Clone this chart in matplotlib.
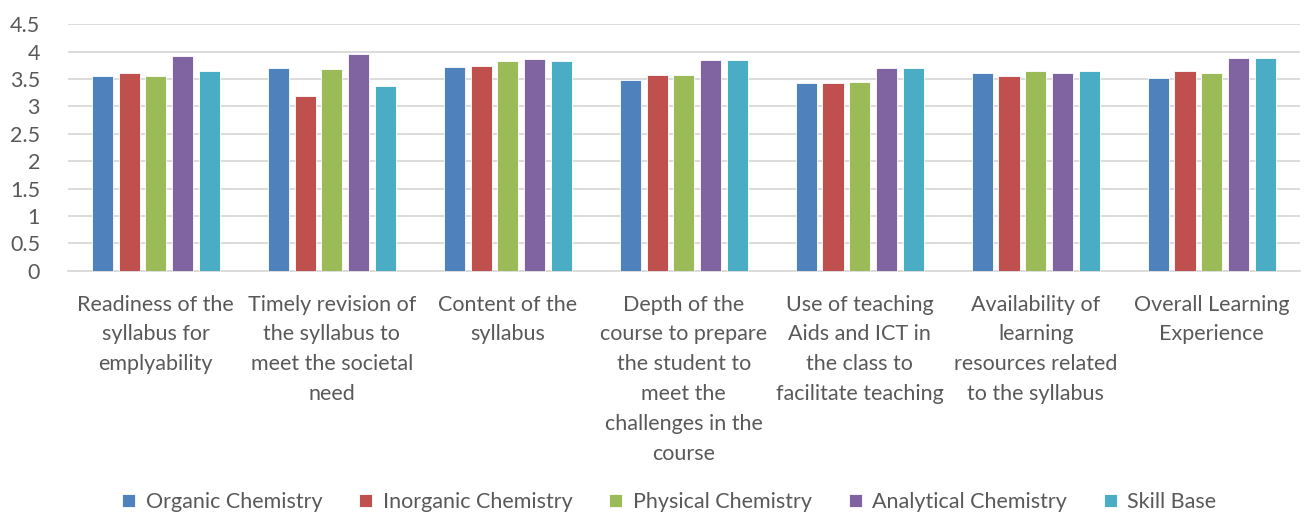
# Import libraries
import numpy as np
import matplotlib.pyplot as plt

# Chart data
categories = ['Readiness of the\nsyllabus for\nemplyability',
              'Timely revision of\nthe syllabus to\nmeet the societal\nneed',
              'Content of the\nsyllabus',
              'Depth of the\ncourse to prepare\nthe student to\nmeet the\nchallenges in the\ncourse',
              'Use of teaching\nAids and ICT in\nthe class to\nfacilitate teaching',
              'Availability of\nlearning\nresources related\nto the syllabus',
              'Overall Learning\nExperience']
series_names = ['Organic Chemistry', 'Inorganic Chemistry', 'Physical Chemistry',
                'Analytical Chemistry', 'Skill Base']
organic = [3.55, 3.71, 3.72, 3.49, 3.43, 3.61, 3.52]
inorganic = [3.61, 3.19, 3.74, 3.58, 3.43, 3.55, 3.64]
physical = [3.55, 3.68, 3.83, 3.58, 3.45, 3.64, 3.61]
analytical = [3.92, 3.95, 3.86, 3.85, 3.70, 3.61, 3.88]
skill_base = [3.65, 3.37, 3.83, 3.85, 3.70, 3.64, 3.88]
y_ticks = [0, 0.5, 1, 1.5, 2, 2.5, 3, 3.5, 4, 4.5]
y_tick_labels = ['0', '0.5', '1', '1.5', '2', '2.5', '3', '3.5', '4', '4.5']

colors = ['#4F81BD', '#C0504D', '#9BBB59', '#8064A2', '#4BACC6']
text_color = '#595959'

plt.rcParams['font.family'] = ['Lato', 'DejaVu Sans']

fig = plt.figure(figsize=(13.05, 5.16), dpi=100)
ax = fig.add_axes([0.052, 0.475, 0.944, 0.478])

x = np.arange(len(categories))
step = 0.152
width = 0.12
all_series = [organic, inorganic, physical, analytical, skill_base]
for i, vals in enumerate(all_series):
    ax.bar(x + (i - 2) * step, vals, width, color=colors[i], label=series_names[i],
           edgecolor='white', linewidth=0.6, zorder=3)

ax.set_xlim(-0.5, len(categories) - 0.5)
ax.set_ylim(0, 4.5)
ax.set_yticks(y_ticks)
ax.set_yticklabels(y_tick_labels)
ax.set_xticks(x)
ax.set_xticklabels(categories, linespacing=1.62)
ax.tick_params(axis='both', length=0, labelsize=15.5, colors=text_color)
ax.tick_params(axis='x', pad=17)
ax.tick_params(axis='y', pad=20)

ax.grid(axis='y', color='#D9D9D9', linewidth=1.3, zorder=0)
for side in ['top', 'right', 'left']:
    ax.spines[side].set_visible(False)
ax.spines['bottom'].set_color('#D9D9D9')
ax.spines['bottom'].set_linewidth(1.3)

fig.legend(loc='lower center', bbox_to_anchor=(0.513, -0.03), ncol=5, frameon=False,
           fontsize=15.5, handlelength=0.6, handleheight=0.6, handletextpad=0.5,
           columnspacing=1.7, labelcolor=text_color)

fig.savefig('out.png', dpi=100)
